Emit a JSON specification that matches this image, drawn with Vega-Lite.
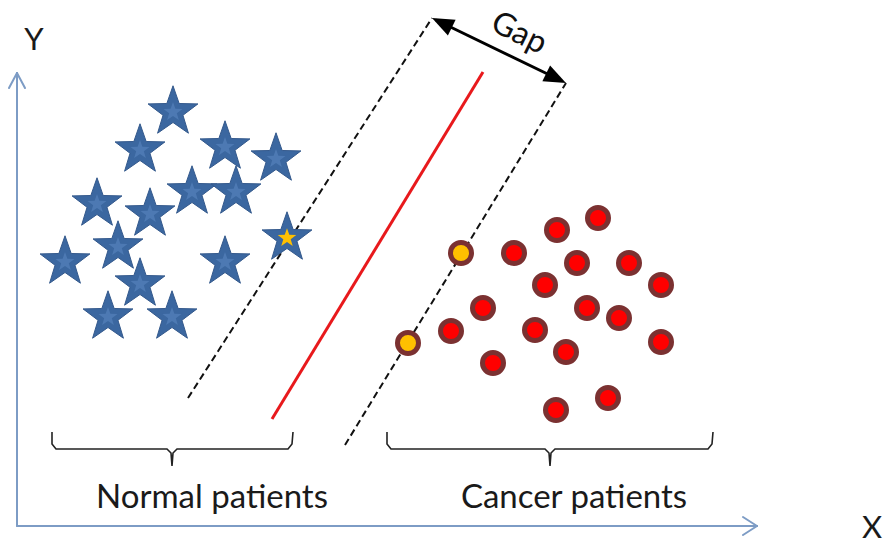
{
  "$schema": "https://vega.github.io/schema/vega-lite/v6.json",
  "width": 883,
  "height": 544,
  "padding": 0,
  "autosize": {"type": "fit", "contains": "padding"},
  "background": "white",
  "config": {"view": {"stroke": null}},
  "datasets": {
    "stars": [
      {"x": 173, "y": 112, "sv": false},
      {"x": 140, "y": 150, "sv": false},
      {"x": 225, "y": 147, "sv": false},
      {"x": 276, "y": 159, "sv": false},
      {"x": 97, "y": 204, "sv": false},
      {"x": 192, "y": 192, "sv": false},
      {"x": 236, "y": 192, "sv": false},
      {"x": 150, "y": 214, "sv": false},
      {"x": 118, "y": 247, "sv": false},
      {"x": 287, "y": 238, "sv": true},
      {"x": 65, "y": 262, "sv": false},
      {"x": 225, "y": 262, "sv": false},
      {"x": 140, "y": 284, "sv": false},
      {"x": 108, "y": 317, "sv": false},
      {"x": 172, "y": 317, "sv": false}
    ],
    "circles": [
      {"x": 598, "y": 218, "sv": false},
      {"x": 557, "y": 230, "sv": false},
      {"x": 461, "y": 253, "sv": true},
      {"x": 514, "y": 253, "sv": false},
      {"x": 577, "y": 263, "sv": false},
      {"x": 629, "y": 263, "sv": false},
      {"x": 545, "y": 285, "sv": false},
      {"x": 661, "y": 285, "sv": false},
      {"x": 483, "y": 308, "sv": false},
      {"x": 587, "y": 308, "sv": false},
      {"x": 451, "y": 331, "sv": false},
      {"x": 535, "y": 330, "sv": false},
      {"x": 619, "y": 318, "sv": false},
      {"x": 408, "y": 343, "sv": true},
      {"x": 661, "y": 342, "sv": false},
      {"x": 493, "y": 363, "sv": false},
      {"x": 566, "y": 352, "sv": false},
      {"x": 556, "y": 410, "sv": false},
      {"x": 608, "y": 398, "sv": false}
    ],
    "dashed": [
      {"x": 188, "y": 398, "x2": 432, "y2": 18},
      {"x": 345, "y": 445, "x2": 566, "y2": 83}
    ],
    "hyperplane": [
      {"x": 272, "y": 419, "x2": 483, "y2": 72}
    ],
    "gap": [
      {"x": 436, "y": 20, "x2": 560, "y2": 80}
    ],
    "axes": [
      {"x": 17, "y": 526, "x2": 17, "y2": 73},
      {"x": 17, "y": 526, "x2": 757, "y2": 526},
      {"x": 17, "y": 73, "x2": 9, "y2": 88},
      {"x": 17, "y": 73, "x2": 25, "y2": 88},
      {"x": 757, "y": 526, "x2": 743, "y2": 517},
      {"x": 757, "y": 526, "x2": 743, "y2": 535}
    ],
    "braces": [
      {"b": "L", "o": 0, "x": 52, "y": 432},
      {"b": "L", "o": 1, "x": 52, "y": 444},
      {"b": "L", "o": 2, "x": 56, "y": 449},
      {"b": "L", "o": 3, "x": 167, "y": 449},
      {"b": "L", "o": 4, "x": 171, "y": 453},
      {"b": "L", "o": 5, "x": 172, "y": 466},
      {"b": "L", "o": 6, "x": 173, "y": 453},
      {"b": "L", "o": 7, "x": 177, "y": 449},
      {"b": "L", "o": 8, "x": 288, "y": 449},
      {"b": "L", "o": 9, "x": 292, "y": 444},
      {"b": "L", "o": 10, "x": 293, "y": 432},
      {"b": "R", "o": 0, "x": 387, "y": 432},
      {"b": "R", "o": 1, "x": 387, "y": 444},
      {"b": "R", "o": 2, "x": 391, "y": 449},
      {"b": "R", "o": 3, "x": 545, "y": 449},
      {"b": "R", "o": 4, "x": 549, "y": 453},
      {"b": "R", "o": 5, "x": 550, "y": 466},
      {"b": "R", "o": 6, "x": 551, "y": 453},
      {"b": "R", "o": 7, "x": 555, "y": 449},
      {"b": "R", "o": 8, "x": 708, "y": 449},
      {"b": "R", "o": 9, "x": 712, "y": 444},
      {"b": "R", "o": 10, "x": 713, "y": 432}
    ],
    "groupLabels": [
      {"x": 212, "y": 498, "label": "Normal patients"},
      {"x": 574, "y": 498, "label": "Cancer patients"}
    ],
    "axisLabels": [
      {"x": 34, "y": 41, "label": "Y"},
      {"x": 872, "y": 529, "label": "X"}
    ]
  },
  "encoding": {
    "x": {"field": "x", "type": "quantitative", "scale": {"domain": [0, 883], "nice": false, "zero": false}, "axis": null},
    "y": {"field": "y", "type": "quantitative", "scale": {"domain": [0, 544], "nice": false, "zero": false, "reverse": true}, "axis": null}
  },
  "layer": [
    {
      "data": {"name": "axes"},
      "mark": {"type": "rule", "color": "#7d9cc5", "strokeWidth": 2, "strokeCap": "round"},
      "encoding": {"x2": {"field": "x2"}, "y2": {"field": "y2"}}
    },
    {
      "data": {"name": "dashed"},
      "mark": {"type": "rule", "color": "#111111", "strokeWidth": 2, "strokeDash": [7, 4]},
      "encoding": {"x2": {"field": "x2"}, "y2": {"field": "y2"}}
    },
    {
      "data": {"name": "hyperplane"},
      "mark": {"type": "rule", "color": "#e8191c", "strokeWidth": 3},
      "encoding": {"x2": {"field": "x2"}, "y2": {"field": "y2"}}
    },
    {
      "data": {"name": "gap"},
      "mark": {"type": "rule", "color": "#000000", "strokeWidth": 3},
      "encoding": {"x2": {"field": "x2"}, "y2": {"field": "y2"}}
    },
    {
      "data": {"name": "dashed"},
      "transform": [{"filter": "datum.x2 > 500"}],
      "mark": {"type": "point", "shape": "M0,0L-2,-0.8L-2,0.8Z", "filled": true, "color": "#000000", "opacity": 1, "size": 484, "angle": 26},
      "encoding": {"x": {"field": "x2", "type": "quantitative"}, "y": {"field": "y2", "type": "quantitative"}}
    },
    {
      "data": {"name": "dashed"},
      "transform": [{"filter": "datum.x2 < 500"}],
      "mark": {"type": "point", "shape": "M0,0L-2,-0.8L-2,0.8Z", "filled": true, "color": "#000000", "opacity": 1, "size": 484, "angle": 206},
      "encoding": {"x": {"field": "x2", "type": "quantitative"}, "y": {"field": "y2", "type": "quantitative"}}
    },
    {
      "data": {"name": "braces"},
      "mark": {"type": "line", "color": "#222222", "strokeWidth": 1.6},
      "encoding": {"order": {"field": "o", "type": "quantitative"}, "detail": {"field": "b", "type": "nominal"}}
    },
    {
      "data": {"name": "stars"},
      "mark": {"type": "point", "shape": "M0,-1L0.235,-0.324L0.951,-0.309L0.38,0.124L0.588,0.809L0,0.4L-0.588,0.809L-0.38,0.124L-0.951,-0.309L-0.235,-0.324Z", "filled": true, "color": "#3b67a0", "opacity": 1, "size": 2750, "stroke": "#34598c", "strokeWidth": 1}
    },
    {
      "data": {"name": "stars"},
      "transform": [{"filter": "!datum.sv"}],
      "mark": {"type": "point", "shape": "M0,-1L0.235,-0.324L0.951,-0.309L0.38,0.124L0.588,0.809L0,0.4L-0.588,0.809L-0.38,0.124L-0.951,-0.309L-0.235,-0.324Z", "filled": true, "color": "#5682ba", "opacity": 0.7, "size": 400}
    },
    {
      "data": {"name": "stars"},
      "transform": [{"filter": "datum.sv"}],
      "mark": {"type": "point", "shape": "M0,-1L0.235,-0.324L0.951,-0.309L0.38,0.124L0.588,0.809L0,0.4L-0.588,0.809L-0.38,0.124L-0.951,-0.309L-0.235,-0.324Z", "filled": true, "color": "#ffc000", "opacity": 1, "size": 380}
    },
    {
      "data": {"name": "circles"},
      "mark": {"type": "point", "shape": "circle", "filled": true, "opacity": 1, "size": 441, "stroke": "#7b3131", "strokeWidth": 5},
      "encoding": {
        "fill": {"field": "sv", "type": "nominal", "scale": {"domain": [false, true], "range": ["#ff0000", "#ffc000"]}, "legend": null}
      }
    },
    {
      "data": {"name": "groupLabels"},
      "mark": {"type": "text", "font": "Lato", "fontSize": 33, "color": "#1a1a1a", "align": "center", "baseline": "middle"},
      "encoding": {"text": {"field": "label"}}
    },
    {
      "data": {"name": "axisLabels"},
      "mark": {"type": "text", "font": "Lato", "fontSize": 31, "color": "#1a1a1a", "align": "center", "baseline": "middle"},
      "encoding": {"text": {"field": "label"}}
    },
    {
      "data": {"values": [{"x": 519, "y": 33, "label": "Gap"}]},
      "mark": {"type": "text", "font": "Lato", "fontSize": 32, "color": "#111111", "align": "center", "baseline": "middle", "angle": 26},
      "encoding": {"text": {"field": "label"}}
    }
  ]
}
